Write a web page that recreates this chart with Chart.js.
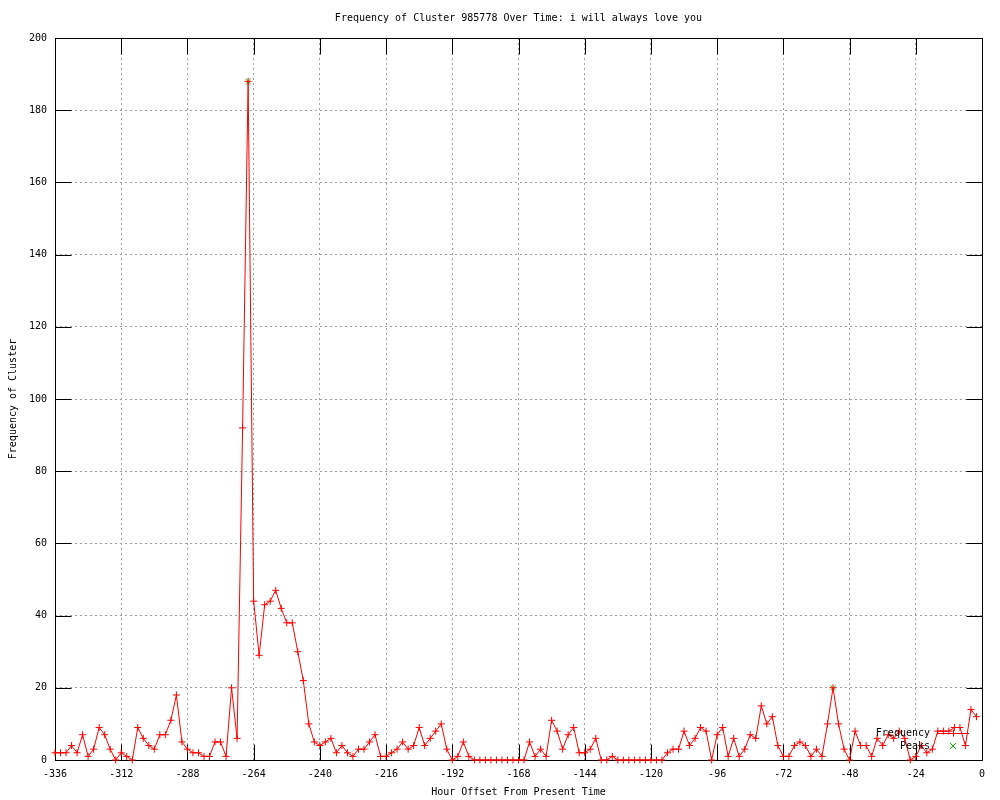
<!DOCTYPE html>
<html>
<head>
<meta charset="utf-8">
<script src="https://cdn.jsdelivr.net/npm/chart.js@4.4.1/dist/chart.umd.min.js"></script>
<style>
  html, body { margin: 0; padding: 0; background: #fff; }
  #wrap { width: 1000px; height: 800px; }
</style>
</head>
<body>
<div id="wrap"><canvas id="c" width="1000" height="800"></canvas></div>
<script>
// hour offsets (x) and cluster frequency (y)
const hours = [
  -336,-334,-332,-330,-328,-326,-324,-322,-320,-318,-316,-314,
  -312,-310,-308,-306,-304,-302,-300,-298,-296,-294,-292,-290,
  -288,-286,-284,-282,-280,-278,-276,-274,-272,-270,-268,-266,
  -264,-262,-260,-258,-256,-254,-252,-250,-248,-246,-244,-242,
  -240,-238,-236,-234,-232,-230,-228,-226,-224,-222,-220,-218,
  -216,-214,-212,-210,-208,-206,-204,-202,-200,-198,-196,-194,
  -192,-190,-188,-186,-184,-182,-180,-178,-176,-174,-172,-170,
  -168,-166,-164,-162,-160,-158,-156,-154,-152,-150,-148,-146,
  -144,-142,-140,-138,-136,-134,-132,-130,-128,-126,-124,-122,
  -120,-118,-116,-114,-112,-110,-108,-106,-104,-102,-100,-98,
  -96,-94,-92,-90,-88,-86,-84,-82,-80,-78,-76,-74,
  -72,-70,-68,-66,-64,-62,-60,-58,-56,-54,-52,-50,
  -48,-46,-44,-42,-40,-38,-36,-34,-32,-30,-28,-26,
  -24,-22,-20,-18,-16,-14,-12,-10,-8,-6,-4,-2
];
const frequency = [
  2,2,2,4,2,7,1,3,9,7,3,0,
  2,1,0,9,6,4,3,7,7,11,18,5,
  3,2,2,1,1,5,5,1,20,6,92,188,
  44,29,43,44,47,42,38,38,30,22,10,5,
  4,5,6,2,4,2,1,3,3,5,7,1,
  1,2,3,5,3,4,9,4,6,8,10,3,
  0,1,5,1,0,0,0,0,0,0,0,0,
  0,0,5,1,3,1,11,8,3,7,9,2,
  2,3,6,0,0,1,0,0,0,0,0,0,
  0,0,0,2,3,3,8,4,6,9,8,0,
  7,9,1,6,1,3,7,6,15,10,12,4,
  1,1,4,5,4,1,3,1,10,20,10,3,
  0,8,4,4,1,6,4,7,6,8,6,0,
  1,4,2,3,8,8,8,9,9,4,14,12
];
const peakHours = [-266, -54];
const peakValues = [188, 20];

const xTicks = [-336,-312,-288,-264,-240,-216,-192,-168,-144,-120,-96,-72,-48,-24,0];
const yTicks = [0,20,40,60,80,100,120,140,160,180,200];

const FONT = { family: "'DejaVu Sans Mono', monospace", size: 10 };
Chart.defaults.font.family = FONT.family;
Chart.defaults.font.size = FONT.size;
Chart.defaults.color = '#000';

// gnuplot-like frame with inward ticks on all four sides
const framePlugin = {
  id: 'frame',
  beforeDatasetsDraw(chart) {
    const { ctx, chartArea: a, scales } = chart;
    const L = Math.round(a.left) + 0.5, R = Math.round(a.right) + 0.5;
    const T = Math.round(a.top) + 0.5, B = Math.round(a.bottom) + 0.5;
    const len = 16;
    ctx.save();
    ctx.strokeStyle = '#000';
    ctx.lineWidth = 1;
    ctx.beginPath();
    xTicks.forEach(v => {
      const x = Math.round(scales.x.getPixelForValue(v)) + 0.5;
      ctx.moveTo(x, B); ctx.lineTo(x, B - len);
      ctx.moveTo(x, T); ctx.lineTo(x, T + len);
    });
    yTicks.forEach(v => {
      const y = Math.round(scales.y.getPixelForValue(v)) + 0.5;
      ctx.moveTo(L, y); ctx.lineTo(L + len, y);
      ctx.moveTo(R, y); ctx.lineTo(R - len, y);
    });
    ctx.stroke();
    ctx.strokeRect(L, T, R - L, B - T);
    ctx.restore();
  },
  afterDraw(chart) {
    const { ctx, chartArea: a } = chart;
    ctx.save();
    ctx.fillStyle = '#000';
    ctx.font = FONT.size + 'px ' + FONT.family;
    ctx.textBaseline = 'middle';
    ctx.textAlign = 'center';
    ctx.fillText('Frequency of Cluster 985778 Over Time: i will always love you', (a.left + a.right) / 2, 18);

    // key, bottom right inside the plot
    const tx = a.right - 52, sx = a.right - 29;
    const y1 = a.bottom - 27, y2 = a.bottom - 14;
    ctx.textAlign = 'right';
    ctx.fillText('Frequency', tx, y1);
    ctx.fillText('Peaks', tx, y2);
    ctx.lineWidth = 1;
    ctx.strokeStyle = '#ff0000';
    ctx.beginPath();
    ctx.moveTo(sx - 16, y1 + 0.5); ctx.lineTo(sx + 16, y1 + 0.5);
    ctx.moveTo(sx - 3.5, y1 + 0.5); ctx.lineTo(sx + 3.5, y1 + 0.5);
    ctx.moveTo(sx + 0.5, y1 - 3.5); ctx.lineTo(sx + 0.5, y1 + 3.5);
    ctx.stroke();
    ctx.strokeStyle = '#00c000';
    ctx.beginPath();
    ctx.moveTo(sx - 3, y2 - 3); ctx.lineTo(sx + 3, y2 + 3);
    ctx.moveTo(sx - 3, y2 + 3); ctx.lineTo(sx + 3, y2 - 3);
    ctx.stroke();
    ctx.restore();
  }
};

new Chart(document.getElementById('c'), {
  type: 'line',
  data: {
    datasets: [
      {
        label: 'Frequency',
        data: hours.map((h, i) => ({ x: h, y: frequency[i] })),
        borderColor: '#ff0000',
        borderWidth: 1,
        pointStyle: 'cross',
        pointRadius: 3.5,
        pointBorderColor: '#ff0000',
        pointBorderWidth: 1,
        pointHoverRadius: 3.5,
        tension: 0,
        fill: false,
        clip: false
      },
      {
        label: 'Peaks',
        data: peakHours.map((h, i) => ({ x: h, y: peakValues[i] })),
        showLine: false,
        pointStyle: 'crossRot',
        pointRadius: 3.5,
        pointBorderColor: '#00c000',
        pointBorderWidth: 1,
        borderColor: '#00c000',
        clip: false
      }
    ]
  },
  options: {
    responsive: false,
    animation: false,
    devicePixelRatio: 1,
    layout: { padding: { top: 38, right: 18, left: 0, bottom: 0 } },
    plugins: { legend: { display: false }, tooltip: { enabled: false } },
    scales: {
      x: {
        type: 'linear',
        min: -336,
        max: 0,
        afterBuildTicks: s => { s.ticks = xTicks.map(v => ({ value: v })); },
        afterFit: s => { s.height = 40; },
        ticks: { padding: 8, maxRotation: 0, autoSkip: false, color: '#000' },
        grid: { color: '#a0a0a0', lineWidth: 1, drawTicks: false },
        border: { display: false, dash: [2, 3] },
        title: { display: true, text: 'Hour Offset From Present Time', padding: { top: 0, bottom: 2 }, color: '#000' }
      },
      y: {
        type: 'linear',
        min: 0,
        max: 200,
        afterBuildTicks: s => { s.ticks = yTicks.map(v => ({ value: v })); },
        afterFit: s => { s.width = 55; },
        ticks: { padding: 8, color: '#000' },
        grid: { color: '#a0a0a0', lineWidth: 1, drawTicks: false },
        border: { display: false, dash: [2, 3] },
        title: { display: true, text: 'Frequency of Cluster', padding: { top: 7, bottom: 0 }, color: '#000' }
      }
    }
  },
  plugins: [framePlugin]
});
</script>
</body>
</html>
